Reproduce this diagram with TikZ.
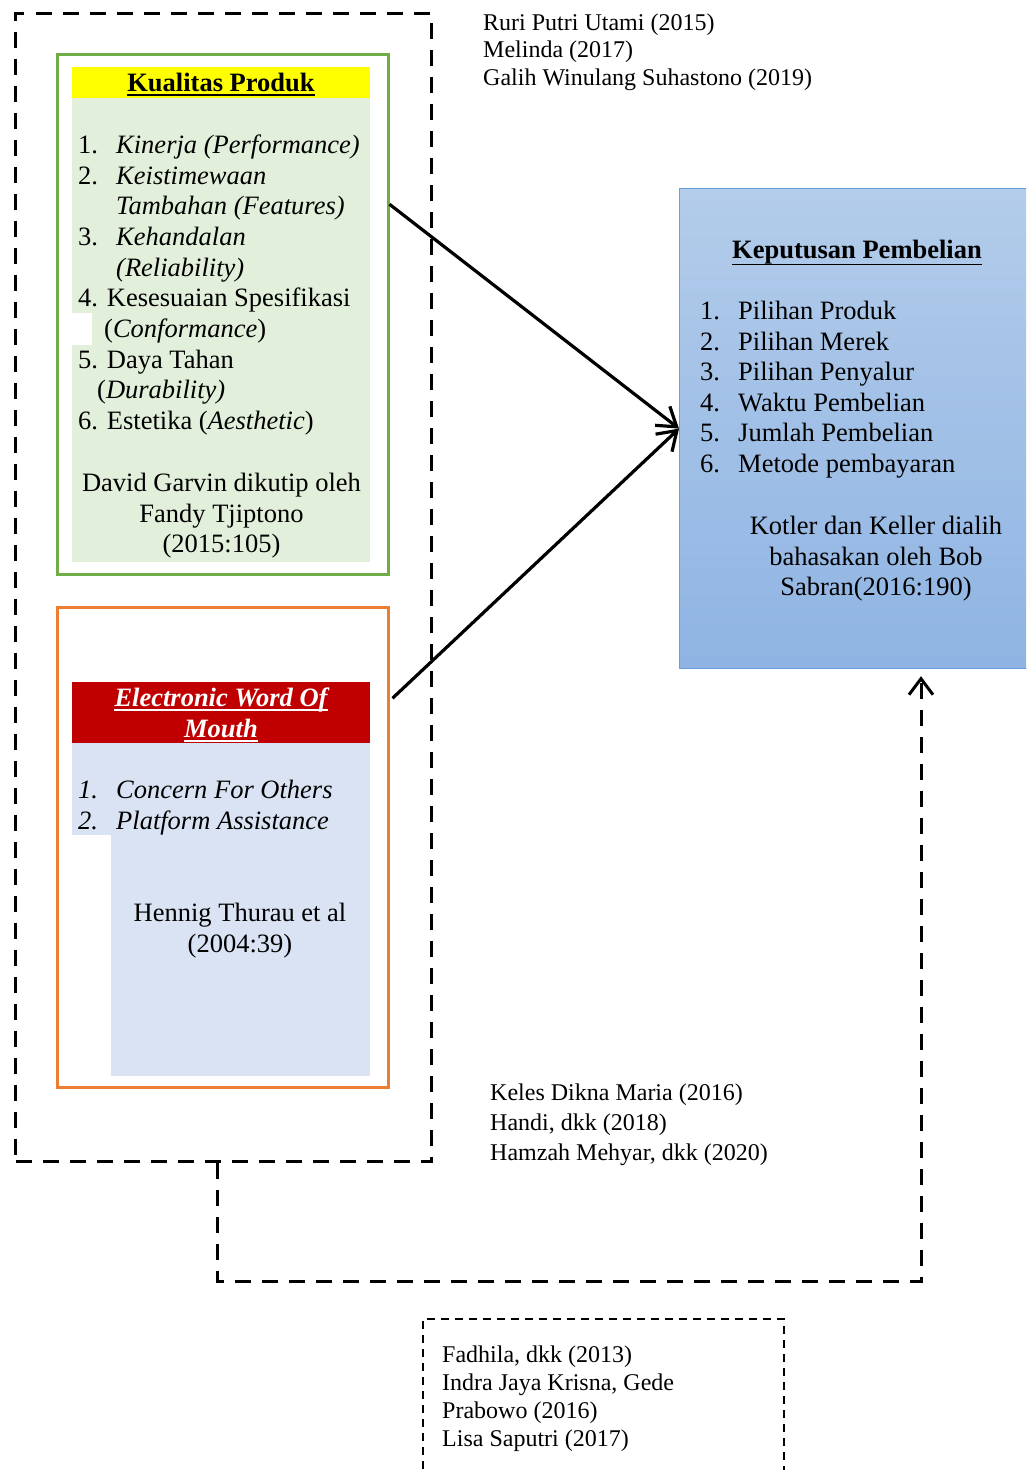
\documentclass[tikz,border=0pt]{standalone}
\usepackage{fontspec}
\setmainfont{Liberation Serif}
\usetikzlibrary{arrows.meta}

\definecolor{gline}{HTML}{70AD47}
\definecolor{gfill}{HTML}{E2EFDA}
\definecolor{ylw}{HTML}{FFFF00}
\definecolor{oline}{HTML}{ED7D31}
\definecolor{dred}{HTML}{C00000}
\definecolor{lblue}{HTML}{DAE3F3}
\definecolor{btop}{HTML}{B3CCEA}
\definecolor{bbot}{HTML}{8FB4E3}
\definecolor{bline}{HTML}{6A9FD9}

\newcommand\fsbig{\fontsize{26.5}{30}\selectfont}
\newcommand\fssmall{\fontsize{24}{27}\selectfont}

\begin{document}
\begin{tikzpicture}[x=1pt,y=-1pt,
  panel/.style={anchor=north west, inner sep=0pt},
  ln/.style={anchor=base west, inner sep=0pt, font=\fsbig, yshift=-1.5pt},
  lc/.style={anchor=base, inner sep=0pt, font=\fsbig, yshift=-1.5pt},
  rf/.style={anchor=base west, inner sep=0pt, font=\fssmall, yshift=-1pt},
  uline/.style={line width=1.6pt},
  bigdash/.style={line width=3pt, dash pattern=on 16pt off 11pt},
  conn/.style={line width=3.2pt, -{Straight Barb[length=18pt,width=24pt]}},
  dconn/.style={bigdash, -{Straight Barb[length=16pt,width=24pt]}}]
\useasboundingbox (0,0) rectangle (1026,1470);
\clip (0,0) rectangle (1026,1470);

% dashed frame round the two independent variables
\node[panel, draw, bigdash, minimum width=416pt, minimum height=1148pt] (xbox) at (14,12) {};

% Kualitas Produk panel
\node[panel, draw=gline, line width=2.5pt, minimum width=331pt, minimum height=520pt] (kq) at (56,53) {};
\fill[gfill] (72,98) rectangle (370,562);
\fill[ylw] (72,67) rectangle (370,98);
\fill[white] (72,313) rectangle (92,345);
\node[lc, font=\fsbig\bfseries] (kqt) at (221,90) {Kualitas Produk};
\draw[uline] ([yshift=-3.5pt]kqt.base west) -- ([yshift=-3.5pt]kqt.base east);
\node[ln] (q1n) at (78,152) {1.};
\node[ln] (q1) at (116,152) {\textit{Kinerja (Performance)}};
\node[ln] (q2n) at (78,183) {2.};
\node[ln] (q2) at (116,183) {\textit{Keistimewaan}};
\node[ln] (q2b) at (116,213) {\textit{Tambahan (Features)}};
\node[ln] (q3n) at (78,244) {3.};
\node[ln] (q3) at (116,244) {\textit{Kehandalan}};
\node[ln] (q3b) at (116,275) {\textit{(Reliability)}};
\node[ln] (q4) at (78,305) {4. Kesesuaian Spesifikasi};
\node[ln] (q4b) at (104,336) {(\textit{Conformance})};
\node[ln] (q5) at (78,367) {5. Daya Tahan};
\node[ln] (q5b) at (97,397) {(\textit{Durability)}};
\node[ln] (q6) at (78,428) {6. Estetika (\textit{Aesthetic})};
\node[lc] (qs1) at (221.5,490) {David Garvin dikutip oleh};
\node[lc] (qs2) at (221.5,520.5) {Fandy Tjiptono};
\node[lc] (qs3) at (221.5,551) {(2015:105)};

% Electronic Word Of Mouth panel
\node[panel, draw=oline, line width=2.5pt, minimum width=331pt, minimum height=480pt] (ew) at (56,606) {};
\fill[dred] (72,682) rectangle (370,743);
\fill[lblue] (72,743) rectangle (370,835);
\fill[lblue] (111,835) rectangle (370,1076);
\node[lc, font=\fsbig\bfseries\itshape, text=white] (ewt1) at (221,705) {Electronic Word Of};
\draw[uline, white] ([yshift=-3.5pt]ewt1.base west) -- ([yshift=-3.5pt]ewt1.base east);
\node[lc, font=\fsbig\bfseries\itshape, text=white] (ewt2) at (221,736) {Mouth};
\draw[uline, white] ([yshift=-3.5pt]ewt2.base west) -- ([yshift=-3.5pt]ewt2.base east);
\node[ln, font=\fsbig\itshape] (e1n) at (78,797) {1.};
\node[ln, font=\fsbig\itshape] (e1) at (116,797) {Concern For Others};
\node[ln, font=\fsbig\itshape] (e2n) at (78,828) {2.};
\node[ln, font=\fsbig\itshape] (e2) at (116,828) {Platform Assistance};
\node[lc] (es1) at (240,920) {Hennig Thurau et al};
\node[lc] (es2) at (240,951) {(2004:39)};

% Keputusan Pembelian panel
\node[panel, draw=bline, line width=1.2pt, top color=btop, bottom color=bbot,
      minimum width=360pt, minimum height=480pt] (kp) at (679,188) {};
\node[lc, font=\fsbig\bfseries] (kpt) at (857,257) {Keputusan Pembelian};
\draw[uline] ([yshift=-6pt]kpt.base west) -- ([yshift=-6pt]kpt.base east);
\foreach \t [count=\i] in {Pilihan Produk, Pilihan Merek, Pilihan Penyalur,
    Waktu Pembelian, Jumlah Pembelian, Metode pembayaran} {
  \node[ln] (p\i n) at (700, {318+(\i-1)*30.6}) {\i.};
  \node[ln] (p\i) at (738, {318+(\i-1)*30.6}) {\t};
}
\node[lc] (ps1) at (876,533) {Kotler dan Keller dialih};
\node[lc] (ps2) at (876,563.5) {bahasakan oleh Bob};
\node[lc] (ps3) at (876,594) {Sabran(2016:190)};

% connectors
\draw[conn] ([yshift=110pt]kq.east) -- (kp.west);
\draw[conn] ([xshift=3pt,yshift=149pt]ew.east) -- (kp.west);
\coordinate (d0) at ([xshift=-6pt]xbox.south);
\coordinate (d1) at (921,1281);
\draw[dconn, shorten >=7pt] (d0) |- (d1) -- (d1 |- kp.south);

% prior research references
\foreach \t [count=\i] in {Ruri Putri Utami (2015), Melinda (2017), Galih Winulang Suhastono (2019)}
  \node[rf] (ra\i) at (483, {29+(\i-1)*27.5}) {\t};
\foreach \t [count=\i] in {Keles Dikna Maria (2016), {Handi, dkk (2018)}, {Hamzah Mehyar, dkk (2020)}}
  \node[rf] (rb\i) at (490, {1099+(\i-1)*30}) {\t};
\node[panel, draw, line width=1.5pt, dash pattern=on 8pt off 6pt,
      minimum width=361pt, minimum height=200pt] (rcbox) at (422,1318) {};
\foreach \t [count=\i] in {{Fadhila, dkk (2013)}, {Indra Jaya Krisna, Gede}, Prabowo (2016), Lisa Saputri (2017)}
  \node[rf] (rc\i) at (442, {1361+(\i-1)*28}) {\t};
\end{tikzpicture}
\end{document}
